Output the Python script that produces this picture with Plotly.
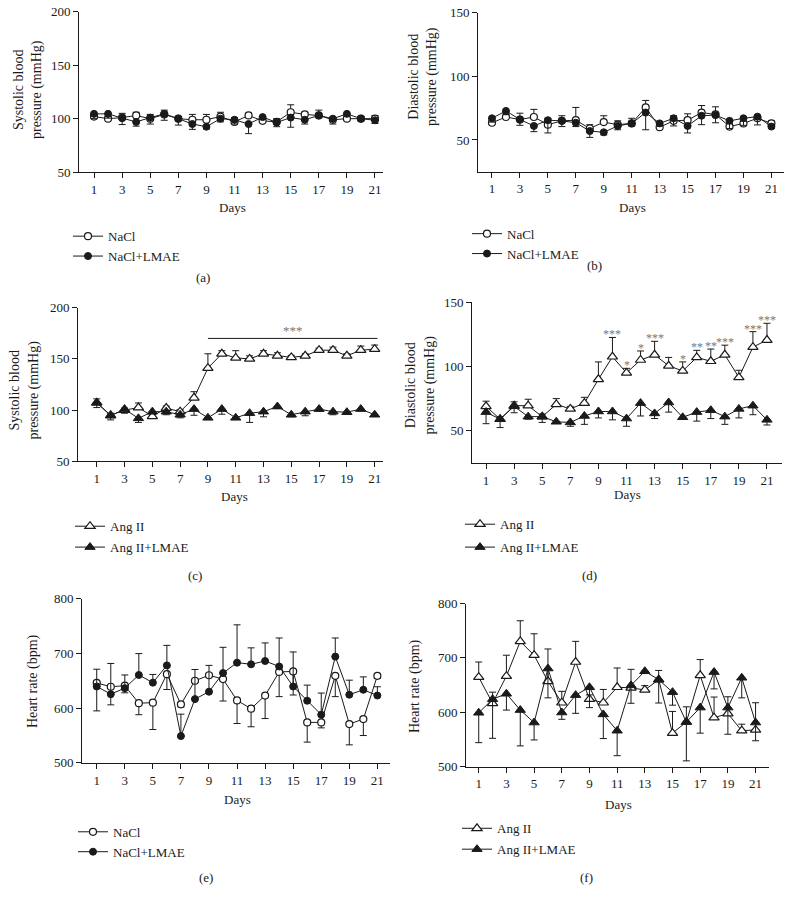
import plotly.graph_objects as go

days = list(range(1, 22))
x_ticks = list(range(1, 22, 2))

# ---------------- (a) Systolic, NaCl ----------------
a_nacl = [102, 100, 101, 103, 100, 104, 100, 99, 99, 102, 97, 103, 98, 97, 106, 104, 103, 99, 100, 100, 100]
a_nacl_err = [2, 2, 4, 3, 4, 4, 2, 5, 5, 4, 4, 2, 2, 3, 7, 2, 5, 2, 1, 2, 3]
a_lmae = [104.5, 104.5, 100.5, 97, 101, 104.5, 100, 95, 92.5, 100, 99, 95, 101.5, 96.5, 101, 99, 103, 100, 104.5, 100, 98.5]
a_lmae_err = [4.5, 4, 6, 4, 6, 6, 6, 5, 2, 3, 4, 9, 2, 4, 9, 4, 2, 5, 2, 2, 3]

# ---------------- (b) Diastolic, NaCl ----------------
b_nacl = [63.5, 68, 66, 68, 62, 65, 65.5, 59, 64, 62, 63, 75.5, 60, 65, 65.5, 71.5, 70, 60.5, 63, 67, 63]
b_nacl_err = [2, 3, 5, 6, 5, 4, 10, 3, 5, 3, 4, 5.5, 2, 4, 5, 5.5, 6, 2, 2, 2, 2]
b_lmae = [67, 72.8, 66, 61, 65.5, 65, 63.5, 57, 56, 61, 63, 71.5, 63, 67, 61, 69, 69.5, 65, 67, 68.3, 60.5]
b_lmae_err = [3, 3, 4.5, 4.5, 10, 4.5, 3, 5, 2, 3, 2, 13.5, 2, 6, 5.5, 7, 6, 6, 5.5, 6.5, 1.5]

# ---------------- (c) Systolic, Ang II ----------------
c_ang = [107, 95, 100, 102.5, 94, 102, 98.5, 112, 141, 155, 151, 150, 155, 153, 151.5, 153, 158.5, 158.5, 153, 158.5, 159.5]
c_ang_err = [4, 2, 2, 4.5, 2, 2, 2, 6, 14, 3, 7, 3, 3, 3, 2, 2, 2, 3, 2, 4, 4]
c_lmae = [107.5, 94.5, 101, 92, 98.5, 98.5, 95.5, 101, 92.5, 101, 92.5, 97, 98.5, 103.5, 95.5, 98.5, 101, 98.5, 98, 101, 95.5]
c_lmae_err = [5, 4, 4, 4, 2, 3, 3, 6, 1, 5, 1, 9, 5, 2, 2, 4, 2, 3, 2, 1, 1]
c_sig_days = [9, 21.2]
c_sig_level = 170
c_sig_label = "***"

# ---------------- (d) Diastolic, Ang II ----------------
d_ang = [69, 59, 69.5, 69.5, 61, 70.5, 67, 71.5, 90, 107.5, 95, 105, 109, 100.5, 96.5, 107, 104, 109, 91.5, 115, 120.5]
d_ang_err = [4, 2, 3, 5, 2, 4.5, 2, 4.5, 13.5, 15, 3.5, 7, 10.5, 6.5, 7, 5.5, 9.5, 7.5, 5.5, 12, 13]
d_lmae = [64.5, 59, 69, 61, 61, 57, 56.5, 61.5, 65, 65, 59.5, 71.5, 63.5, 72, 60.5, 64.5, 66, 61, 67, 69.5, 58.5]
d_lmae_err = [9, 6.5, 5, 2, 4.5, 1, 3, 6.5, 5, 6.5, 6, 10, 4, 7.5, 1, 7, 6.5, 6, 7, 7, 4]
d_star_days = [10, 11, 12, 13, 15, 16, 17, 18, 20, 21]
d_star_labels = ["***", "*", "*", "***", "*", "**", "**", "***", "***", "***"]

# ---------------- (e) Heart rate, NaCl ----------------
e_nacl = [646, 639, 641, 609, 610, 662, 607, 650, 660, 653, 614, 599, 623, 666, 667, 574, 574, 659, 571, 580, 659]
e_nacl_err = [51, 33, 13, 21, 49, 28, 5, 3, 3, 40, 42, 33, 42, 45, 43, 36, 10, 38, 38, 30, 5]
e_lmae = [639.5, 625.5, 636.5, 660.5, 646.5, 678, 549, 616.5, 630, 664, 683, 680, 686, 676, 639.5, 613.5, 588, 694, 624.5, 633.5, 623]
e_lmae_err = [31.5, 56, 24, 39, 15, 36.5, 40, 54, 48, 47, 69, 30, 33, 52, 63, 28.5, 39.5, 34, 26.5, 23.5, 16]

# ---------------- (f) Heart rate, Ang II ----------------
f_ang = [664.5, 616.5, 666.5, 730.5, 705, 657, 617.5, 692.5, 624, 617.5, 646, 645, 641, 660, 561.5, 582, 668, 590, 597.5, 566, 567.5]
f_ang_err = [28, 20.5, 38.5, 38, 39.5, 59.5, 21, 38, 8, 24.5, 35.5, 34, 8, 17, 40, 28, 29, 38, 31, 12, 50]
f_lmae = [599, 624, 634, 604, 581, 680.5, 599.5, 631.5, 646, 596, 566, 649.5, 675.5, 660, 637, 582, 608.5, 674, 608.5, 663.5, 581]
f_lmae_err = [55, 72, 30, 66, 32, 54, 12.5, 33.5, 37.5, 44.5, 46, 33, 3, 43, 24, 71.5, 47, 31, 49, 37, 33.5]

W, H = 794, 902
FONT = "Liberation Serif, Times New Roman, serif"
INK = "#1a1a1a"
zeros = [0] * len(days)

def fx(px):
    return px / W

def fy(py):
    # vertical placement, calibrated against the rendered page
    py_fig = (py - 7.2) / 0.9815
    return 1 - py_fig / H

panels = [
    dict(ax="", xpx=(79, 383), ypx=(12, 172), xr=[-0.07, 21.57], yr=[50, 200], yt=[50, 100, 150, 200],
         open_=a_nacl, open_err=a_nacl_err, fill=a_lmae, fill_err=a_lmae_err, sym="circle", open_up=True,
         names=("NaCl", "NaCl+LMAE"), ytitle="Systolic blood<br>pressure (mmHg)", ytpos=(28, 90),
         days_pos=(233, 207), cap="(a)", cap_pos=(203, 277), leg=(68, 221), gap=0),
    dict(ax="2", xpx=(478, 784), ypx=(12.7, 171.7), xr=[0.0, 21.9], yr=[25, 150], yt=[50, 100, 150],
         open_=b_nacl, open_err=b_nacl_err, fill=b_lmae, fill_err=b_lmae_err, sym="circle", open_up=True,
         names=("NaCl", "NaCl+LMAE"), ytitle="Diastolic blood<br>pressure (mmHg)", ytpos=(423, 77),
         days_pos=(632, 207), cap="(b)", cap_pos=(594, 265), leg=(467, 218.5), gap=0),
    dict(ax="3", xpx=(78, 383), ypx=(307.3, 460.7), xr=[-0.35, 21.6], yr=[50, 200], yt=[50, 100, 150, 200],
         open_=c_ang, open_err=c_ang_err, fill=c_lmae, fill_err=c_lmae_err, sym="triangle-up", open_up=True,
         names=("Ang II", "Ang II+LMAE"), ytitle="Systolic blood<br>pressure (mmHg)", ytpos=(24, 390),
         days_pos=(234, 496), cap="(c)", cap_pos=(195, 575), leg=(70, 510.5), gap=1),
    dict(ax="4", xpx=(472, 782), ypx=(301.7, 462.3), xr=[0.0, 22.07], yr=[25, 150], yt=[50, 100, 150],
         open_=d_ang, open_err=d_ang_err, fill=d_lmae, fill_err=d_lmae_err, sym="triangle-up", open_up=True,
         names=("Ang II", "Ang II+LMAE"), ytitle="Diastolic blood<br>pressure (mmHg)", ytpos=(420, 385),
         days_pos=(627, 494), cap="(d)", cap_pos=(589, 575), leg=(460, 508.5), gap=3),
    dict(ax="5", xpx=(82, 390), ypx=(597.6, 761.7), xr=[-0.05, 21.9], yr=[500, 800], yt=[500, 600, 700, 800],
         open_=e_nacl, open_err=e_nacl_err, fill=e_lmae, fill_err=e_lmae_err, sym="circle", open_up=False,
         names=("NaCl", "NaCl+LMAE"), ytitle="Heart rate (bpm)", ytpos=(33, 680),
         days_pos=(237, 798), cap="(e)", cap_pos=(206, 876), leg=(73, 815.5), gap=0),
    dict(ax="6", xpx=(466, 769), ypx=(602.7, 765.3), xr=[0.08, 21.97], yr=[500, 800], yt=[500, 600, 700, 800],
         open_=f_ang, open_err=f_ang_err, fill=f_lmae, fill_err=f_lmae_err, sym="triangle-up", open_up=True,
         names=("Ang II", "Ang II+LMAE"), ytitle="Heart rate (bpm)", ytpos=(415, 685),
         days_pos=(618, 803), cap="(f)", cap_pos=(586, 876), leg=(457, 812), gap=1),
]

fig = go.Figure()
annotations = []
shapes = []
layout = {}

for i, p in enumerate(panels):
    xa = "x" + p["ax"]
    ya = "y" + p["ax"]
    leg_name = "legend" if i == 0 else "legend%d" % (i + 1)
    msize = 7 if p["sym"] == "circle" else 9
    err_common = dict(type="data", symmetric=False, color=INK, thickness=1, width=3.5)
    if p["open_up"]:
        open_e = dict(array=p["open_err"], arrayminus=zeros)
        fill_e = dict(array=zeros, arrayminus=p["fill_err"])
    else:
        open_e = dict(array=zeros, arrayminus=p["open_err"])
        fill_e = dict(array=p["fill_err"], arrayminus=zeros)

    fig.add_trace(go.Scatter(
        x=days, y=p["open_"], xaxis=xa, yaxis=ya, mode="lines+markers", name=p["names"][0],
        legend=leg_name, legendgroup="o%d" % i,
        line=dict(color=INK, width=1),
        marker=dict(symbol=p["sym"], size=msize, color="white", line=dict(color=INK, width=1.2)),
        error_y=dict(**open_e, **err_common),
        cliponaxis=False,
    ))
    fig.add_trace(go.Scatter(
        x=days, y=p["fill"], xaxis=xa, yaxis=ya, mode="lines+markers", name=p["names"][1],
        legend=leg_name, legendgroup="f%d" % i,
        line=dict(color=INK, width=1),
        marker=dict(symbol=p["sym"], size=msize, color=INK, line=dict(color=INK, width=1)),
        error_y=dict(**fill_e, **err_common),
        cliponaxis=False,
    ))

    axis_common = dict(showline=True, linecolor=INK, linewidth=1, ticks="outside", ticklen=5,
                       tickcolor=INK, tickwidth=1, showgrid=False, zeroline=False,
                       tickfont=dict(family=FONT, size=13, color=INK), fixedrange=True)
    layout["xaxis" + p["ax"]] = dict(domain=[fx(p["xpx"][0]), fx(p["xpx"][1])], range=p["xr"],
                                     tickvals=x_ticks, anchor=ya, **axis_common)
    layout["yaxis" + p["ax"]] = dict(domain=[fy(p["ypx"][1]), fy(p["ypx"][0])], range=p["yr"],
                                     tickvals=p["yt"], anchor=xa, **axis_common)

    layout[leg_name] = dict(x=fx(p["leg"][0]), y=fy(p["leg"][1]), xanchor="left", yanchor="top",
                            font=dict(family=FONT, size=13, color=INK), bgcolor="rgba(0,0,0,0)",
                            tracegroupgap=p["gap"], itemclick=False, itemdoubleclick=False)

    annotations.append(dict(text=p["ytitle"], x=fx(p["ytpos"][0]), y=fy(p["ytpos"][1]), xref="paper", yref="paper",
                            textangle=-90, showarrow=False, xanchor="center", yanchor="middle",
                            font=dict(family=FONT, size=14, color=INK)))
    annotations.append(dict(text="Days", x=fx(p["days_pos"][0]), y=fy(p["days_pos"][1]), xref="paper", yref="paper",
                            showarrow=False, xanchor="center", yanchor="middle",
                            font=dict(family=FONT, size=13, color=INK)))
    annotations.append(dict(text=p["cap"], x=fx(p["cap_pos"][0]), y=fy(p["cap_pos"][1]), xref="paper", yref="paper",
                            showarrow=False, xanchor="center", yanchor="middle",
                            font=dict(family=FONT, size=13, color=INK)))

# significance bar in (c)
shapes.append(dict(type="line", xref="x3", yref="y3", x0=c_sig_days[0], x1=c_sig_days[1],
                   y0=c_sig_level, y1=c_sig_level, line=dict(color=INK, width=1)))
annotations.append(dict(text=c_sig_label, xref="x3", yref="y3", x=(c_sig_days[0] + c_sig_days[1]) / 2,
                        y=c_sig_level, yanchor="bottom", showarrow=False, yshift=-2,
                        font=dict(family=FONT, size=13, color="#777777")))

# stars in (d)
for d, lab in zip(d_star_days, d_star_labels):
    k = days.index(d)
    top = d_ang[k] + d_ang_err[k]
    annotations.append(dict(text=lab, xref="x4", yref="y4", x=d, y=top, yanchor="middle", yshift=3,
                            showarrow=False, font=dict(family=FONT, size=12, color="#777777")))

fig.update_layout(
    width=W, height=H, margin=dict(l=0, r=0, t=0, b=0),
    paper_bgcolor="white", plot_bgcolor="white",
    annotations=annotations, shapes=shapes, showlegend=True,
    **layout,
)

post = (
    "document.documentElement.style.margin='0';document.documentElement.style.padding='0';"
    "document.documentElement.style.overflow='hidden';"
    "document.body.style.margin='0';document.body.style.padding='0';document.body.style.overflow='hidden';"
    "document.body.style.height='902px';document.documentElement.style.height='902px';"
    "var gd=document.getElementById('{plot_id}');gd.style.position='fixed';gd.style.top='0px';gd.style.left='0px';"
)

fig.write_html("out.html", config={"displayModeBar": False}, post_script=post)
